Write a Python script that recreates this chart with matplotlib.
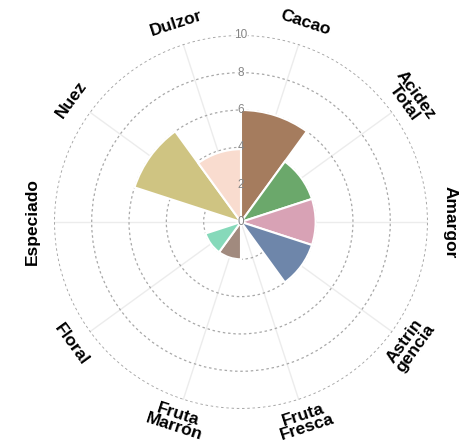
import numpy as np
import matplotlib
matplotlib.use('Agg')
import matplotlib.pyplot as plt

# Flavour profile values (0-10 scale)
categorias = ['Cacao', 'Acidez\nTotal', 'Amargor', 'Astrin\ngencia', 'Fruta\nFresca',
              'Fruta\nMarrón', 'Floral', 'Especiado', 'Nuez', 'Dulzor']
valores = [6, 4, 4, 4, 0, 2, 2, 0, 6, 3.9]
colores = ['#A57C5E', '#6BA86B', '#D8A2B5', '#6E86AA', '#E8B07A',
           '#A18A7E', '#86D9BA', '#D48A6A', '#CFC482', '#F9DCCF']
ticks_r = [0, 2, 4, 6, 8, 10]

plt.rcParams['font.family'] = ['Liberation Sans', 'DejaVu Sans']

fig = plt.figure(figsize=(4.74, 4.46), dpi=100)
ax = fig.add_axes([0.1139, 0.083, 0.789, 0.8386], projection='polar')
ax.set_theta_zero_location('N')
ax.set_theta_direction(-1)

n = len(categorias)
paso = 2 * np.pi / n
theta = np.arange(n) * paso + paso / 2

ax.bar(theta, valores, width=paso, color=colores, edgecolor='white', linewidth=1.5, zorder=3)

ax.set_ylim(0, 10.02)
ax.set_xticks(theta)
ax.set_xticklabels([])
ax.set_yticks(ticks_r)
ax.set_yticklabels([])
ax.xaxis.grid(True, color='#ececec', linestyle='-', linewidth=1)
ax.yaxis.grid(True, color='#a8a8a8', linestyle=(0, (2, 2.2)), linewidth=0.9)
ax.spines['polar'].set_visible(False)
ax.tick_params(length=0)

# radial labels along the top spoke
for r in ticks_r:
    caja = dict(facecolor='white', edgecolor='none', pad=0.3, alpha=0.8) if r > 6 else None
    ax.text(0, r, str(r), ha='center', va='center', fontsize=8.5, color='#858585',
            zorder=4, bbox=caja)

# category labels, rotated along the circle
for t, cat in zip(theta, categorias):
    deg = np.degrees(t)
    rot = -deg
    if 90 < deg < 270:
        rot += 180
    ax.text(t, 11.2, cat, ha='center', va='center', rotation=rot,
            rotation_mode='anchor', fontsize=12.5, fontweight='bold',
            linespacing=0.85, color='black')

fig.savefig('out.png', dpi=100, facecolor='white')
